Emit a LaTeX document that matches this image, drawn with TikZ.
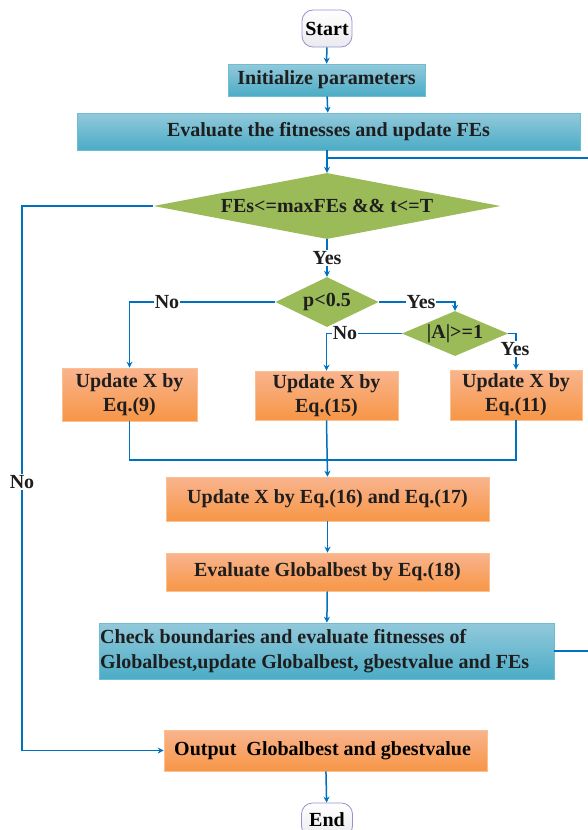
\documentclass[tikz,border=0pt]{standalone}
\usepackage{fontspec}
\setmainfont{Liberation Serif}
\usetikzlibrary{shapes.geometric,arrows.meta}
\definecolor{lineblue}{HTML}{0070C0}
\definecolor{tealtop}{HTML}{93C9DB}
\definecolor{tealbot}{HTML}{4BACC6}
\definecolor{orgtop}{HTML}{F9B48E}
\definecolor{orgbot}{HTML}{F79646}
\definecolor{dgreen}{HTML}{9BBB59}
\definecolor{txt}{HTML}{1E1E1E}
\tikzset{
  conn/.style={draw=lineblue, line width=1.5pt},
  arr/.style={conn, -{Stealth[length=6pt,width=6pt]}},
  bigfont/.style={font=\fontsize{20}{24}\selectfont\bfseries},
  tealbox/.style={rectangle, top color=tealtop, bottom color=tealbot, draw=tealbot!80!white, line width=0.6pt, inner sep=0pt, text=txt, bigfont},
  orgbox/.style={rectangle, top color=orgtop, bottom color=orgbot, draw=orgbot!60!white, line width=0.6pt, inner sep=0pt, text=txt, bigfont, align=center},
  dia/.style={diamond, fill=dgreen, inner sep=0pt, text=txt, bigfont},
  term/.style={rectangle, rounded corners=11pt, top color=white, bottom color=blue!8!gray!15, draw=gray!60!blue!60, line width=0.8pt, inner sep=0pt, bigfont},
  lbl/.style={fill=white, inner sep=1pt, text=txt, bigfont},
}
\begin{document}
\begin{tikzpicture}[x=1pt,y=-1pt]
\useasboundingbox (0,0) rectangle (587,830);
% nodes
\node[term, minimum width=50pt, minimum height=37pt] (start) at (327,28.5) {Start};
\node[tealbox, minimum width=197pt, minimum height=32pt] (init) at (326.5,80) {Initialize parameters};
\node[tealbox, minimum width=503pt, minimum height=37pt] (eval) at (328.5,131.5) {Evaluate the fitnesses and update FEs};
\node[dia, shape aspect=5.26, minimum width=347pt, minimum height=66pt] (d1) at (327,206) {FEs<=maxFEs \&\& t<=T};
\node[dia, shape aspect=2.06, minimum width=103pt, minimum height=50pt] (d2) at (327,302) {p<0.5};
\node[dia, shape aspect=2.36, minimum width=106pt, minimum height=45pt] (d3) at (455,333.5) {|A|>=1};
\node[orgbox, minimum width=135pt, minimum height=53pt] (u9) at (129.5,394.5) {Update X by\\Eq.(9)};
\node[orgbox, minimum width=143pt, minimum height=49pt] (u15) at (326.5,395.5) {Update X by\\Eq.(15)};
\node[orgbox, minimum width=132pt, minimum height=50pt] (u11) at (516,395) {Update X by\\Eq.(11)};
\node[orgbox, minimum width=323pt, minimum height=44pt] (u16) at (327.5,499) {Update X by Eq.(16) and Eq.(17)};
\node[orgbox, minimum width=323pt, minimum height=38pt] (gb) at (327.5,572) {Evaluate Globalbest by Eq.(18)};
\node[tealbox, minimum width=455pt, minimum height=56pt] (chk) at (326.5,651) {};
\node[anchor=west, align=left, inner sep=0pt, text=txt, font=\fontsize{20}{25}\selectfont\bfseries] (chkt) at (100,651) {Check boundaries and evaluate fitnesses of\\Globalbest,update Globalbest, gbestvalue and FEs};
\node[orgbox, minimum width=323pt, minimum height=41pt] (out) at (325.5,750.5) {};
\node[anchor=west, inner sep=0pt, text=black, bigfont] (outt) at (174,750.5) {Output\ \ Globalbest and gbestvalue};
\node[term, minimum width=51pt, minimum height=34pt] (end) at (327,820) {End};
% coordinates
\coordinate (loopR) at (592,158);
\coordinate (loopM) at (327,158);
\coordinate (noL) at (22,206);
\coordinate (mergeY) at (327,460);
% connectors
\draw[arr] (start) -- (init);
\draw[arr] (init) -- (eval);
\draw[arr] (eval.south -| d1.north) -- (d1.north);
\draw[conn] (loopR |- chk.east) -- (chk.east);
\draw[conn] (loopR |- chk.east) -- (loopR) -- (loopM);
\draw[conn] (d1.west) -- (noL) -- (noL |- out.west);
\draw[arr] (noL |- out.west) -- (out.west);
\node[lbl] (no1) at (22,482) {No};
\draw[arr] (d1.south) -- (d2.north);
\node[lbl] (yes1) at (327,258) {Yes};
\draw[arr] (d2.west) -- (u9.north |- d2.west) -- (u9.north);
\node[lbl] (no2) at (167,302) {No};
\draw[arr] (d2.east) -- (d3.north |- d2.east) -- (d3.north);
\node[lbl] (yes2) at (421,302) {Yes};
\draw[arr] (d3.west) -- (u15.north |- d3.west) -- (u15.north);
\node[lbl] (no3) at (345,333.5) {No};
\draw[arr] (d3.east) -- (u11.north |- d3.east) -- (u11.north);
\node[lbl] (yes3) at (515,349) {Yes};
\draw[conn] (u9.south) -- (u9.south |- mergeY) -- (u11.south |- mergeY) -- (u11.south);
\draw[arr] (u15.south) -- (u16.north);
\draw[arr] (u16) -- (gb);
\draw[arr] (gb) -- (chk);
\draw[arr] (out) -- (end);
\end{tikzpicture}
\end{document}
